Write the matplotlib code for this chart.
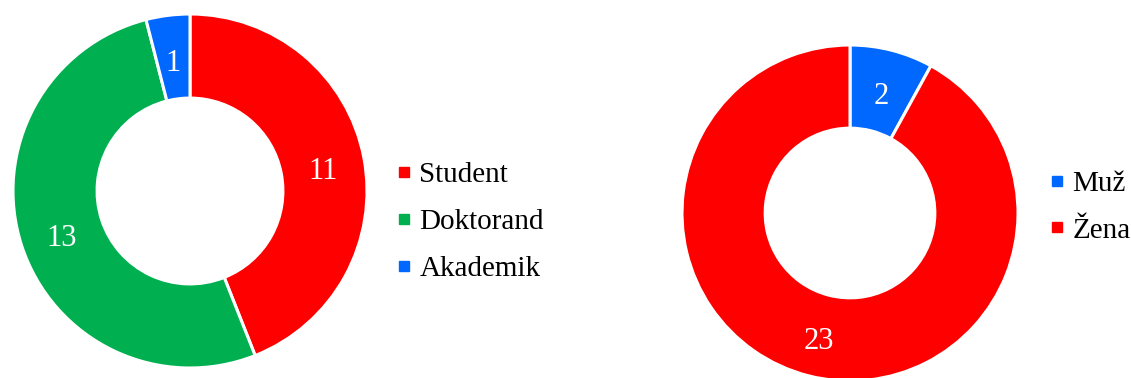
import matplotlib
matplotlib.use("Agg")
import matplotlib.pyplot as plt
from matplotlib.lines import Line2D
import matplotlib.transforms as mtransforms
import numpy as np

# role of respondents
role_labels = ["Student", "Doktorand", "Akademik"]
role_counts = [11, 13, 1]
role_colors = ["#FF0000", "#00B050", "#0068FF"]

# gender of respondents
sex_labels = ["Muž", "Žena"]
sex_counts = [2, 23]
sex_colors = ["#0068FF", "#FF0000"]

plt.rcParams['font.family'] = ['Liberation Serif', 'DejaVu Serif']

W, H = 1131, 378
fig = plt.figure(figsize=(W / 100, H / 100), dpi=100)


def donut(cx, cy, r, hole, counts, colors, labels, leg_x, leg_y):
    # cx, cy, r in pixels (y from top)
    ax = fig.add_axes([(cx - r) / W, (H - cy - r) / H, 2 * r / W, 2 * r / H])
    wedges, _ = ax.pie(counts, colors=colors, startangle=90, counterclock=False,
                       radius=1, wedgeprops=dict(width=1 - hole, edgecolor='white', linewidth=2.2))
    ax.set_xlim(-1, 1)
    ax.set_ylim(-1, 1)
    ax.set_aspect('equal')
    ax.axis('off')
    mid = (1 + hole) / 2
    shift = mtransforms.offset_copy(ax.transData, fig=fig, y=-2, units='points')
    for w, v in zip(wedges, counts):
        a = np.deg2rad((w.theta1 + w.theta2) / 2)
        ax.text(mid * np.cos(a), mid * np.sin(a), str(v), color='white', transform=shift,
                fontsize=22, ha='center', va='center_baseline')
    handles = [Line2D([], [], marker='s', color=c, linestyle='', markersize=7) for c in colors]
    fig.legend(handles, labels, loc='center left', bbox_to_anchor=(leg_x / W, 1 - leg_y / H),
               frameon=False, fontsize=21, labelspacing=0.7, handletextpad=0.17,
               handlelength=0.7, borderpad=0, borderaxespad=0)


donut(190, 191, 177, 0.525, role_counts, role_colors, role_labels, 394, 222)
donut(850, 213, 168, 0.505, sex_counts, sex_colors, sex_labels, 1047, 207)

fig.savefig('out.png', dpi=100)
